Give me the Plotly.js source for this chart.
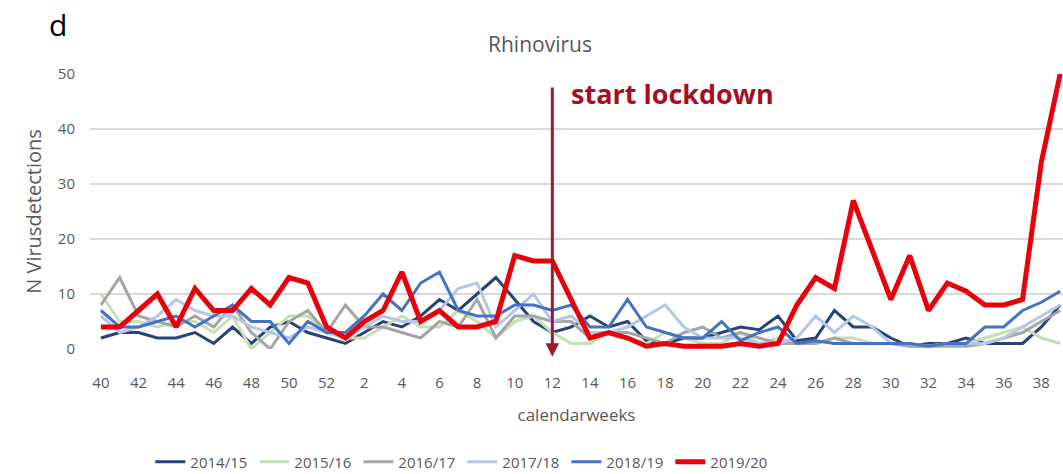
<!DOCTYPE html>
<html>
<head>
<meta charset="utf-8">
<script src="https://cdn.plot.ly/plotly-3.0.1.min.js"></script>
<style>
  html, body { margin: 0; padding: 0; background: #fff; }
  #plot { width: 1063px; height: 474px; }
</style>
</head>
<body>
<div id="plot"></div>
<script>
// calendar weeks, season runs from week 40 to week 39
const weeks = [40, 41, 42, 43, 44, 45, 46, 47, 48, 49, 50, 51, 52,
  1, 2, 3, 4, 5, 6, 7, 8, 9, 10, 11, 12, 13, 14, 15, 16, 17, 18, 19, 20,
  21, 22, 23, 24, 25, 26, 27, 28, 29, 30, 31, 32, 33, 34, 35, 36, 37, 38, 39];

const seasons = ['2014/15', '2015/16', '2016/17', '2017/18', '2018/19', '2019/20'];

const s1415 = [2, 3, 3, 2, 2, 3, 1, 4, 1, 4, 5, 3, 2,
  1, 3, 5, 4, 6, 9, 7, 10, 13, 9, 5, 3, 4, 6, 4, 5, 1.5, 1, 2, 2,
  3, 4, 3.5, 6, 1.5, 2, 7, 4, 4, 2, 0.5, 1, 1, 2, 1, 1, 1, 4, 8];
const s1516 = [10, 5, 5, 4, 5, 5, 3, 6, 0, 3, 6, 6, 3,
  2, 2, 4, 6, 4, 4, 7, 5, 2, 5, 6, 3, 1, 1, 3, 2, 1, 3, 2, 1,
  1, 3, 1, 2, 1, 1, 2, 2, 1, 1, 0.5, 0.5, 1, 1, 2, 3, 4, 2, 1];
const s1617 = [8, 13, 6, 5, 4, 6, 4, 8, 3, 0, 5, 7, 3,
  8, 4, 4, 3, 2, 5, 4, 9, 2, 6, 6, 5, 5, 2, 3, 3, 2, 1, 3, 4,
  2, 3, 2, 1, 1, 1, 2, 1, 1, 1, 0.5, 0.5, 0.5, 0.5, 1, 2, 3, 5, 7];
const s1718 = [6, 3, 4, 6, 9, 7, 6, 6, 4, 3, 2, 4, 3,
  2, 4, 6, 5, 5, 7, 11, 12, 4, 7, 10, 5, 6, 3, 3, 4, 6, 8, 4, 2,
  2, 2, 1, 1, 2, 6, 3, 6, 4, 1, 1, 0.5, 1, 1, 1, 2, 4, 6, 8];
const s1819 = [7, 4, 4, 5, 6, 4, 6, 8, 5, 5, 1, 5, 3,
  3, 6, 10, 7, 12, 14, 7, 6, 6, 8, 8, 7, 8, 4, 4, 9, 4, 3, 2, 2,
  5, 1.5, 3, 4, 1, 1.5, 1, 1, 1, 1, 1, 0.5, 1, 1, 4, 4, 7, 8.5, 10.5];
const s1920 = [4, 4, 7, 10, 4, 11, 7, 7, 11, 8, 13, 12, 4,
  2, 5, 7, 14, 5, 7, 4, 4, 5, 17, 16, 16, 9, 2, 3, 2, 0.5, 1, 0.5, 0.5,
  0.5, 1, 0.5, 1, 8, 13, 11, 27, 18, 9, 17, 7, 12, 10.5, 8, 8, 9, 34, 50];

const seriesValues = [s1415, s1516, s1617, s1718, s1819, s1920];
const seriesColors = ['#264478', '#C5E0B4', '#A5A5A5', '#B4C7E7', '#4472C4', '#E8000B'];
const seriesWidths = [3, 3, 3, 3, 3, 5];

const lockdownWeek = 12;

const xIdx = weeks.map((w, i) => i);
const tickIdx = xIdx.filter(i => i % 2 === 0 && i <= 50);
const tickText = tickIdx.map(i => String(weeks[i]));
const lockdownIdx = weeks.indexOf(lockdownWeek);

const traces = seasons.map((name, k) => ({
    x: xIdx,
    y: seriesValues[k],
    type: 'scatter',
    mode: 'lines',
    name: name,
    line: { color: seriesColors[k], width: seriesWidths[k] },
    cliponaxis: true
}));

const greyText = '#595959';

const layout = {
    width: 1063,
    height: 474,
    margin: { l: 90, r: 0, t: 74, b: 125 },
    paper_bgcolor: '#fff',
    plot_bgcolor: '#fff',
    font: { family: 'Open Sans, sans-serif', size: 14, color: greyText },
    title: {
        text: 'Rhinovirus',
        font: { size: 21, color: greyText },
        xref: 'container', x: 0.508, xanchor: 'center',
        yref: 'container', y: 0.905, yanchor: 'middle'
    },
    xaxis: {
        range: [-0.58, 51.15],
        tickmode: 'array',
        tickvals: tickIdx,
        ticktext: tickText,
        showgrid: false,
        zeroline: false,
        showline: false,
        ticks: '',
        automargin: false,
        ticklabelstandoff: 23,
        tickfont: { size: 15, color: greyText },
        title: { text: 'calendarweeks', font: { size: 17, color: greyText }, standoff: 18 }
    },
    yaxis: {
        range: [0, 50],
        tickvals: [0, 10, 20, 30, 40, 50],
        showgrid: true,
        gridcolor: '#D9D9D9',
        gridwidth: 1.5,
        zeroline: false,
        showline: false,
        ticks: '',
        automargin: false,
        ticklabelstandoff: 14,
        tickfont: { size: 15, color: greyText },
        title: { text: 'N Virusdetections', font: { size: 20, color: greyText }, standoff: 10 }
    },
    showlegend: true,
    legend: {
        orientation: 'h',
        x: 0.062, xanchor: 'left',
        yref: 'container',
        y: 1 - 462 / 474, yanchor: 'middle',
        entrywidth: 59,
        entrywidthmode: 'pixels',
        font: { size: 15, color: greyText },
        traceorder: 'normal'
    },
    annotations: [
        {
            x: lockdownIdx, y: -1.4, xref: 'x', yref: 'y',
            ax: lockdownIdx, ay: 47.8, axref: 'x', ayref: 'y',
            text: '', showarrow: true,
            arrowhead: 2, arrowsize: 0.9, arrowwidth: 3, arrowcolor: '#A0192D'
        },
        {
            x: lockdownIdx + 0.9, y: 46.5, xref: 'x', yref: 'y',
            text: '<b>start lockdown</b>', showarrow: false,
            xanchor: 'left', yanchor: 'middle',
            font: { size: 27, color: '#A50F24' }
        },
        {
            // panel label "d"
            x: (58 - 90) / 973, y: (349 - 25) / 275, xref: 'x domain', yref: 'y domain',
            text: 'd', showarrow: false, xanchor: 'center', yanchor: 'middle',
            font: { size: 30, color: '#000' }
        }
    ]
};

Plotly.newPlot('plot', traces, layout, { staticPlot: true, displayModeBar: false });
</script>
</body>
</html>
